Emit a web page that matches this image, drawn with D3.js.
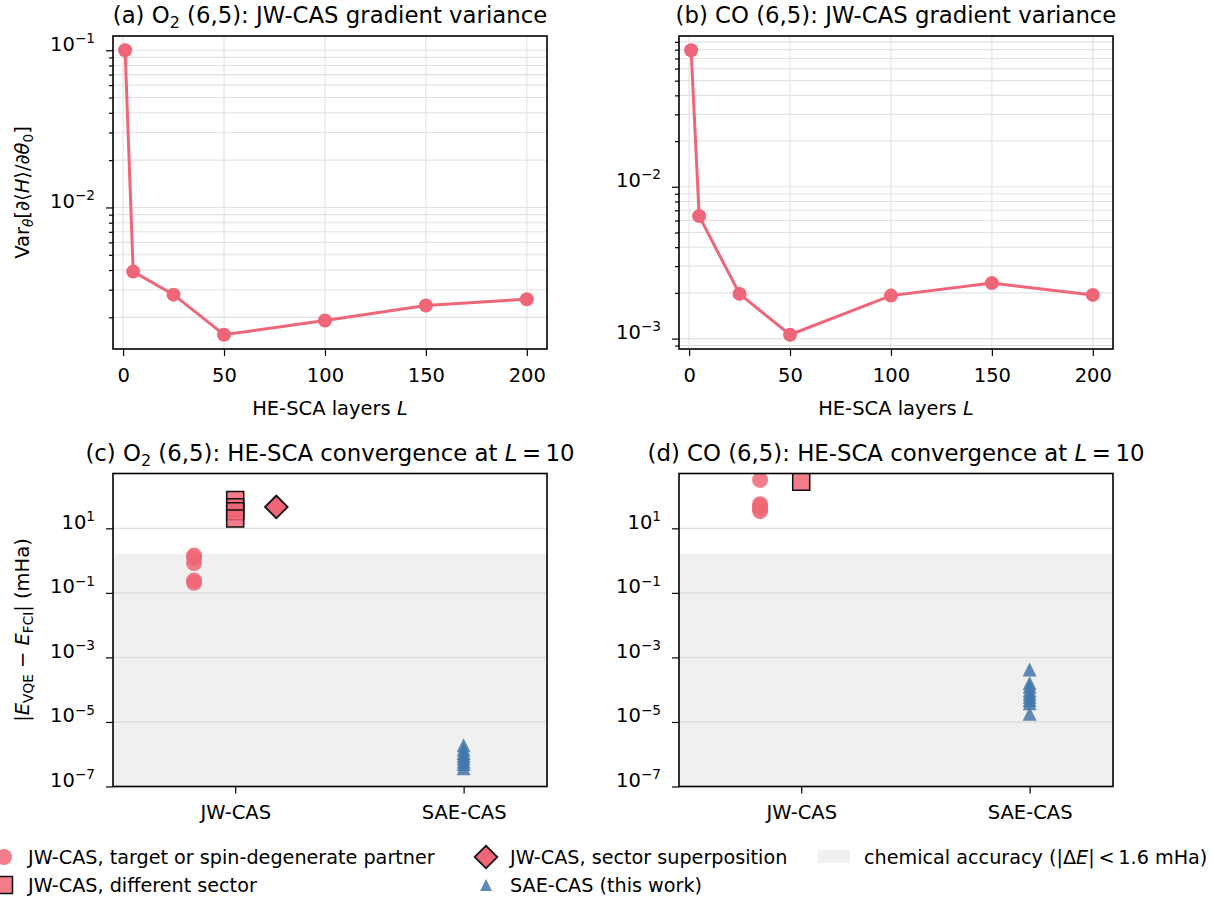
<!DOCTYPE html>
<html lang="en">
<head>
<meta charset="utf-8" />
<title>HE-SCA gradient variance and convergence</title>
<script src="https://d3js.org/d3.v7.min.js"></script>
<style>
  body { margin: 0; background: #fff; }
  svg text { font-family: "DejaVu Sans", sans-serif; fill: #000; }
  .tick line { stroke: #000; stroke-width: 1.2px; }
  .domain { display: none; }
</style>
</head>
<body>
<svg id="fig" width="1212" height="901"></svg>
<script>
// ---- data ----
var layers = [1, 5, 25, 50, 100, 150, 200];
var varO2 = [0.1, 0.00391, 0.00279, 0.00155, 0.00191, 0.00238, 0.00261];
var varCO = [0.0793, 0.00641, 0.00197, 0.00106, 0.00192, 0.00232, 0.00194];
var layerTicks = [0, 50, 100, 150, 200];

var methods = ["JW-CAS", "SAE-CAS"];
var o2Target = [1.43, 1.2, 0.84, 0.24, 0.205];
var o2Sector = [75, 45, 34, 20];
var o2Superpos = [46];
var o2Sae = [1.9e-6, 1.4e-6, 1.1e-6, 9e-7, 7.5e-7, 6e-7, 5e-7, 3.7e-7];
var coTarget = [316, 56, 48, 42, 34];
var coSector = [280];
var coSuperpos = [];
var coSae = [4.2e-4, 1.6e-4, 1.25e-4, 9.5e-5, 7.5e-5, 6e-5, 4.8e-5, 3.8e-5, 1.8e-5];
var errTicks = [1e1, 1e-1, 1e-3, 1e-5, 1e-7];
var chemAcc = 1.6;

var svg = d3.select("#fig");
var red = "#EE6677", blue = "#4477AA", band = "#f0f0f0", gridc = "#e2e2e2";
var W = 434, H = 313, fs = 19.5, tfs = 22.8;

// poor man's mathtext: parts = [{t, it, sub, sup}]
function rich(sel, parts, size) {
	var shift = 0;
	parts.forEach(function(p) {
		var ts = sel.append("tspan").text(p.t);
		var target = p.sub ? size * 0.22 : (p.sup ? -size * 0.4 : 0);
		ts.attr("dy", target - shift);
		shift = target;
		if (p.sub || p.sup) ts.attr("font-size", size * 0.7);
		if (p.it) ts.attr("font-style", "italic");
	});
}

function pow10(d) {
	var e = Math.round(Math.log10(d));
	return [{t: "10"}, {t: (e < 0 ? "\u2212" : "") + Math.abs(e), sup: true}];
}

function padLog(vals) {
	var lo = d3.min(vals, Math.log10), hi = d3.max(vals, Math.log10);
	var m = (hi - lo) * 0.05;
	return [Math.pow(10, lo - m), Math.pow(10, hi + m)];
}

function logTicks(dom) {
	var major = [], minor = [];
	for (var k = Math.floor(Math.log10(dom[0])); k <= Math.ceil(Math.log10(dom[1])); k++) {
		for (var m = 1; m < 10; m++) {
			var v = m * Math.pow(10, k);
			if (v < dom[0] * 0.9999 || v > dom[1] * 1.0001) continue;
			(m == 1 ? major : minor).push(v);
		}
	}
	return {major: major, minor: minor};
}

function styleAxis(a) {
	a.attr("font-size", fs).attr("font-family", null);
	return a;
}

function frame(g) {
	g.append("rect").attr("width", W).attr("height", H)
		.attr("fill", "none").attr("stroke", "#000").attr("stroke-width", 1.6);
}

function title(g, parts) {
	var t = g.append("text").attr("x", W / 2).attr("y", -13)
		.attr("text-anchor", "middle").attr("font-size", tfs);
	rich(t, parts, tfs);
}

function ylabel(g, parts) {
	var t = g.append("text").attr("text-anchor", "middle").attr("font-size", fs)
		.attr("transform", "translate(-84," + (H / 2) + ") rotate(-90)");
	rich(t, parts, fs);
}

function logAxis(g, y, ticks) {
	g.append("g").call(d3.axisLeft(y).tickValues(ticks.minor).tickSize(4).tickFormat(""));
	var ya = styleAxis(g.append("g")
		.call(d3.axisLeft(y).tickValues(ticks.major).tickSize(7).tickPadding(11)));
	ya.selectAll(".tick text").text(null).each(function(d) {
		rich(d3.select(this), pow10(d), fs);
	});
}

function drawVariance(left, top, values, ttl, ylab) {
	var g = svg.append("g").attr("transform", "translate(" + left + "," + top + ")");
	var x = d3.scaleLinear().domain([-5, 210]).range([0, W]);
	var y = d3.scaleLog().domain(padLog(values)).range([H, 0]);
	var ticks = logTicks(y.domain());

	g.append("g").selectAll("line").data(layerTicks).join("line")
		.attr("x1", x).attr("x2", x).attr("y1", 0).attr("y2", H)
		.attr("stroke", gridc).attr("stroke-width", 1.1);
	g.append("g").selectAll("line").data(ticks.major.concat(ticks.minor)).join("line")
		.attr("x1", 0).attr("x2", W).attr("y1", y).attr("y2", y)
		.attr("stroke", gridc).attr("stroke-width", 1.1);

	var pts = layers.map(function(L, i) { return [L, values[i]]; });
	g.append("path").datum(pts)
		.attr("d", d3.line().x(function(d) { return x(d[0]); }).y(function(d) { return y(d[1]); }))
		.attr("fill", "none").attr("stroke", red).attr("stroke-width", 3);
	g.append("g").selectAll("circle").data(pts).join("circle")
		.attr("cx", function(d) { return x(d[0]); })
		.attr("cy", function(d) { return y(d[1]); })
		.attr("r", 7).attr("fill", red);

	frame(g);
	styleAxis(g.append("g").attr("transform", "translate(0," + H + ")")
		.call(d3.axisBottom(x).tickValues(layerTicks).tickSize(7).tickPadding(12)));
	logAxis(g, y, ticks);

	var xl = g.append("text").attr("x", W / 2).attr("y", H + 66)
		.attr("text-anchor", "middle").attr("font-size", fs);
	rich(xl, [{t: "HE-SCA layers "}, {t: "L", it: true}], fs);
	title(g, ttl);
	if (ylab) ylabel(g, ylab);
}

var triangle = {
	draw: function(ctx, size) {
		var r = Math.sqrt(size) / 2;
		ctx.moveTo(0, -r); ctx.lineTo(r, r); ctx.lineTo(-r, r); ctx.closePath();
	}
};

function drawConvergence(left, top, sets, ttl, ylab, id) {
	var g = svg.append("g").attr("transform", "translate(" + left + "," + top + ")");
	var x = d3.scaleLinear().domain([-0.535, 1.365]).range([0, W]);
	var y = d3.scaleLog().domain([1e-7, 5e2]).range([H, 0]);

	g.append("clipPath").attr("id", id).append("rect").attr("width", W).attr("height", H);
	g.append("rect").attr("y", y(chemAcc)).attr("width", W).attr("height", H - y(chemAcc))
		.attr("fill", band);
	g.append("g").selectAll("line").data(errTicks).join("line")
		.attr("x1", 0).attr("x2", W).attr("y1", y).attr("y2", y)
		.attr("stroke", "#dedede").attr("stroke-width", 1.4);

	var m = g.append("g").attr("clip-path", "url(#" + id + ")");
	m.selectAll("circle").data(sets.target).join("circle")
		.attr("cx", x(-0.18)).attr("cy", y).attr("r", 8)
		.attr("fill", red).attr("fill-opacity", 0.85);
	m.append("g").selectAll("path").data(sets.sector).join("path")
		.attr("d", d3.symbol().type(d3.symbolSquare).size(17 * 17))
		.attr("transform", function(d) { return "translate(" + x(0) + "," + y(d) + ")"; })
		.attr("fill", red).attr("fill-opacity", 0.85)
		.attr("stroke", "#111").attr("stroke-width", 1.5);
	m.append("g").selectAll("path").data(sets.superpos).join("path")
		.attr("d", d3.symbol().type(d3.symbolSquare).size(16 * 16))
		.attr("transform", function(d) { return "translate(" + x(0.18) + "," + y(d) + ") rotate(45)"; })
		.attr("fill", red).attr("stroke", "#111").attr("stroke-width", 1.8);
	m.append("g").selectAll("path").data(sets.sae).join("path")
		.attr("d", d3.symbol().type(triangle).size(14 * 14))
		.attr("transform", function(d) { return "translate(" + x(1) + "," + y(d) + ")"; })
		.attr("fill", blue).attr("fill-opacity", 0.85);

	frame(g);
	styleAxis(g.append("g").attr("transform", "translate(0," + H + ")")
		.call(d3.axisBottom(x).tickValues([0, 1]).tickSize(7).tickPadding(12)
			.tickFormat(function(d) { return methods[d]; })));
	logAxis(g, y, {major: errTicks, minor: []});
	title(g, ttl);
	if (ylab) ylabel(g, ylab);
}

drawVariance(113, 36, varO2,
	[{t: "(a) O"}, {t: "2", sub: true}, {t: " (6,5): JW-CAS gradient variance"}],
	[{t: "Var"}, {t: "\u03b8", it: true, sub: true}, {t: "[\u2202\u27e8"}, {t: "H", it: true},
	 {t: "\u27e9/\u2202"}, {t: "\u03b8", it: true}, {t: "0", sub: true}, {t: "]"}]);
drawVariance(679, 36, varCO,
	[{t: "(b) CO (6,5): JW-CAS gradient variance"}], null);

drawConvergence(113, 473.5, {target: o2Target, sector: o2Sector, superpos: o2Superpos, sae: o2Sae},
	[{t: "(c) O"}, {t: "2", sub: true}, {t: " (6,5): HE-SCA convergence at "}, {t: "L", it: true}, {t: "\u2009=\u200910"}],
	[{t: "|"}, {t: "E", it: true}, {t: "VQE", sub: true}, {t: " \u2212 "}, {t: "E", it: true},
	 {t: "FCI", sub: true}, {t: "| (mHa)"}], "clipc");
drawConvergence(679, 473.5, {target: coTarget, sector: coSector, superpos: coSuperpos, sae: coSae},
	[{t: "(d) CO (6,5): HE-SCA convergence at "}, {t: "L", it: true}, {t: "\u2009=\u200910"}],
	null, "clipd");

// ---- legend ----
var lg = svg.append("g");
lg.append("circle").attr("cx", 4).attr("cy", 857).attr("r", 8).attr("fill", red).attr("fill-opacity", 0.85);
lg.append("path").attr("d", d3.symbol().type(d3.symbolSquare).size(17 * 17))
	.attr("transform", "translate(4,885)").attr("fill", red).attr("fill-opacity", 0.85)
	.attr("stroke", "#111").attr("stroke-width", 1.5);
lg.append("path").attr("d", d3.symbol().type(d3.symbolSquare).size(16 * 16))
	.attr("transform", "translate(486,857) rotate(45)").attr("fill", red)
	.attr("stroke", "#111").attr("stroke-width", 1.8);
lg.append("path").attr("d", d3.symbol().type(triangle).size(12 * 12))
	.attr("transform", "translate(486,885)").attr("fill", blue).attr("fill-opacity", 0.85);
lg.append("rect").attr("x", 818).attr("y", 850).attr("width", 32).attr("height", 13).attr("fill", band);

var legendText = [
	{x: 28, y: 864, parts: [{t: "JW-CAS, target or spin-degenerate partner"}]},
	{x: 28, y: 892, parts: [{t: "JW-CAS, different sector"}]},
	{x: 510, y: 864, parts: [{t: "JW-CAS, sector superposition"}]},
	{x: 510, y: 892, parts: [{t: "SAE-CAS (this work)"}]},
	{x: 864, y: 864, parts: [{t: "chemical accuracy (|\u0394"}, {t: "E", it: true}, {t: "|\u2009<\u20091.6 mHa)"}]}
];
legendText.forEach(function(d) {
	var t = lg.append("text").attr("x", d.x).attr("y", d.y).attr("font-size", 19.2);
	rich(t, d.parts, 19.2);
});
</script>
</body>
</html>
